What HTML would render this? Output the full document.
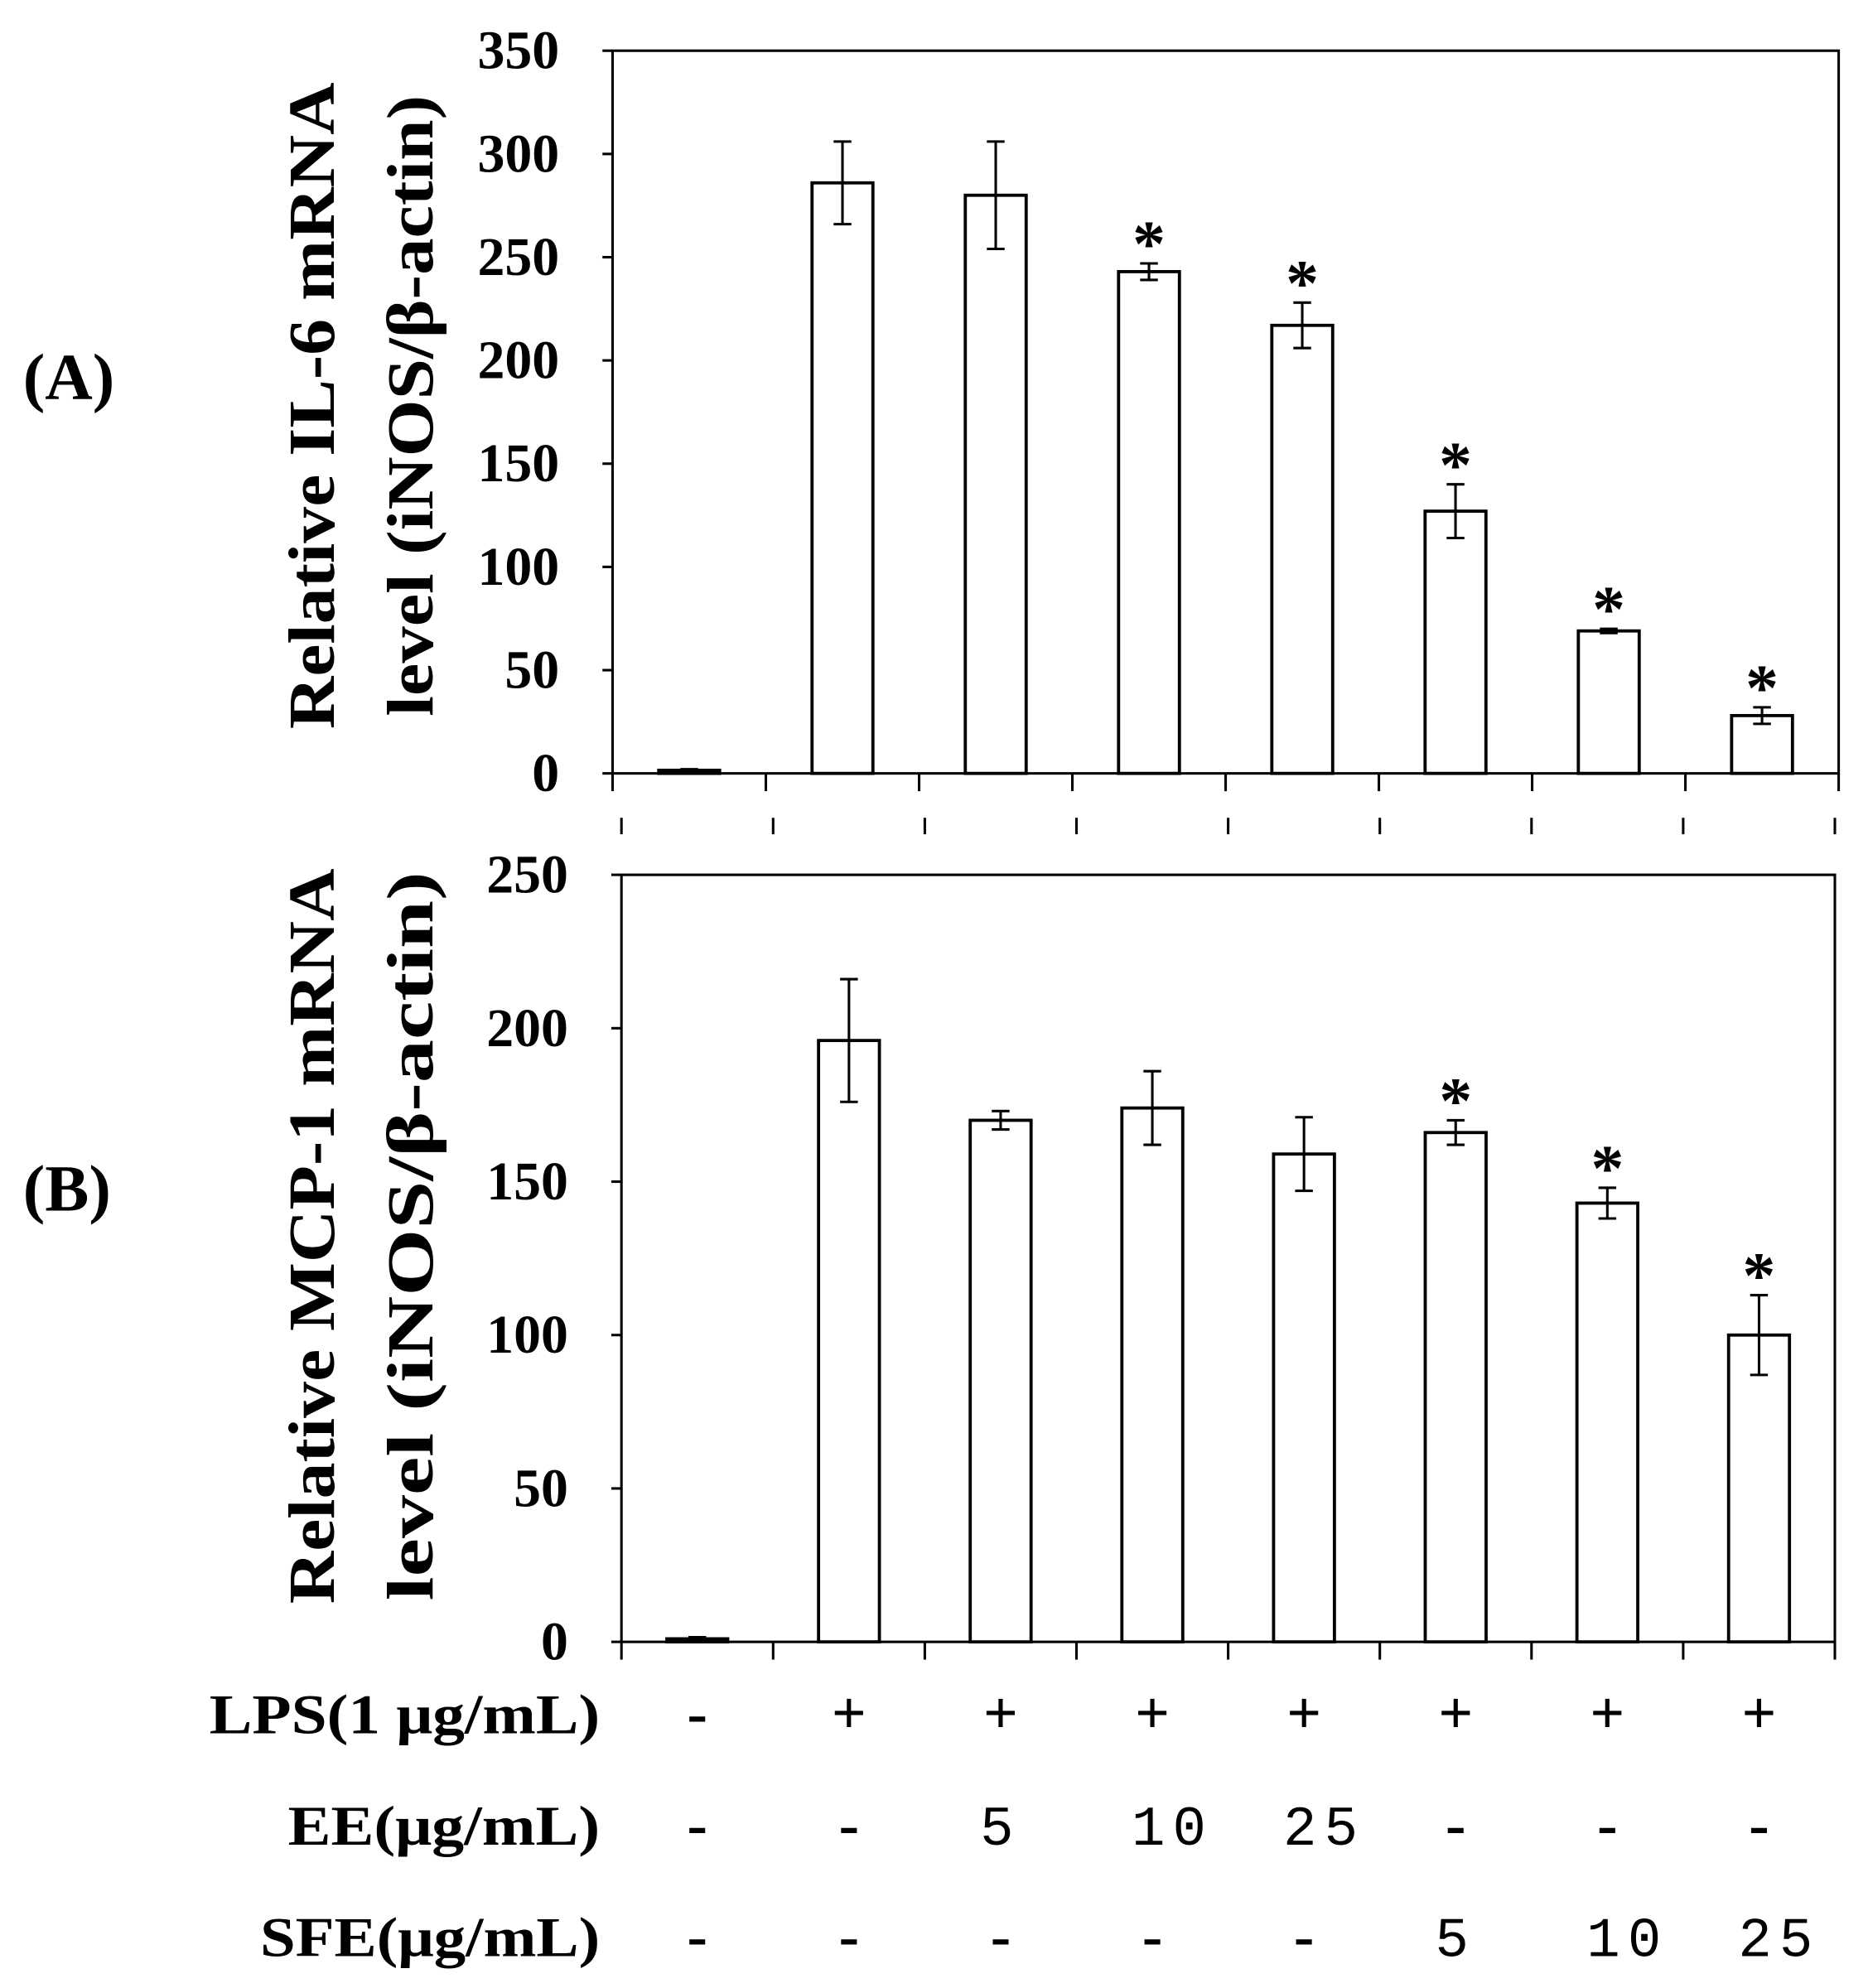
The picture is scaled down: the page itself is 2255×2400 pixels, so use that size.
<!DOCTYPE html>
<html><head><meta charset="utf-8"><style>
html,body{margin:0;padding:0;background:#fff}
svg{display:block}
text{font-family:"Liberation Serif",serif;font-weight:bold;fill:#000}
.mono{font-family:"Liberation Mono",monospace;font-weight:normal;letter-spacing:6px}
</style></head><body>
<svg id="chart" width="2255" height="2400" viewBox="0 0 1473 1568" xmlns="http://www.w3.org/2000/svg">
<g id="g"></g>
</svg>
<script>
const categories=["ctrl","LPS","EE5","EE10","EE25","SFE5","SFE10","SFE25"];
const valuesA=[1.5,286,280,243,217,127,69,28];
const errorsA=[0.5,20,26,4,11,13,1,4];
const starsA=[0,0,0,1,1,1,1,1];
const ticksA=[0,50,100,150,200,250,300,350];
const valuesB=[1,196,170,174,159,166,143,100];
const errorsB=[0.5,20,3,12,12,4,5,13];
const starsB=[0,0,0,0,0,1,1,1];
const ticksB=[0,50,100,150,200,250];
const lpsRow=["-","+","+","+","+","+","+","+"];
const eeRow=["-","-","5","10","25","-","-","-"];
const sfeRow=["-","-","-","-","-","5","10","25"];

const NS="http://www.w3.org/2000/svg";
const g=document.getElementById('g');
function el(t,a,txt){const e=document.createElementNS(NS,t);for(const k in a)e.setAttribute(k,a[k]);if(txt!==undefined)e.textContent=txt;g.appendChild(e);return e;}

function panel(p){
  const {x0,x1,y0,y1,max,vals,errs,stars,ticks,name}=p;
  const n=vals.length, cw=(x1-x0)/n, bw=48;
  const ys=v=>y1-(v/max)*(y1-y0);
  const xs=i=>x0+cw*(i+0.5);
  const box=el('rect',{x:x0,y:y0,width:x1-x0,height:y1-y0,fill:'none',stroke:'#000','stroke-width':2});
  
  
  ticks.forEach(t=>{
    const tx=el('text',{x:x0-42,y:ys(t)+14,'text-anchor':'end','font-size':43},String(t));
    
    
    el('line',{x1:x0-8,x2:x0,y1:ys(t),y2:ys(t),stroke:'#000','stroke-width':2});
  });
  for(let i=0;i<=n;i++){
    const x=x0+cw*i;
    el('line',{x1:x,x2:x,y1:y1,y2:y1+14,stroke:'#000','stroke-width':2});
  }
  vals.forEach((v,i)=>{
    const r=el('rect',{x:xs(i)-bw/2,y:ys(v),width:bw,height:y1-ys(v),fill:'#fff',stroke:'#000','stroke-width':2.5});
    
    
    const e=errs[i];
    const eb=el('path',{d:`M${xs(i)},${ys(v+e)}V${ys(v-e)}M${xs(i)-7},${ys(v+e)}H${xs(i)+7}M${xs(i)-7},${ys(v-e)}H${xs(i)+7}`,stroke:'#000','stroke-width':2,fill:'none'});
    
    
    if(stars[i]){
      const s=el('text',{x:xs(i),y:ys(v+e)+2,'text-anchor':'middle','font-size':52},'*');
      
      
    }
  });
}
panel({x0:483,x1:1450,y0:40,y1:610,max:350,vals:valuesA,errs:errorsA,stars:starsA,ticks:ticksA,name:'panel-a'});
panel({x0:490,x1:1447,y0:690,y1:1295,max:250,vals:valuesB,errs:errorsB,stars:starsB,ticks:ticksB,name:'panel-b'});
for(let i=0;i<=8;i++){const x=490+(1447-490)/8*i;el('line',{x1:x,x2:x,y1:645,y2:658,stroke:'#000','stroke-width':2});}

function ytitle(cx,cy,l1,l2,len1,len2,name){
  const t=el('text',{transform:`translate(${cx},${cy}) rotate(-90)`,'text-anchor':'middle','font-size':52});
  
  
  const a=document.createElementNS(NS,'tspan');a.setAttribute('x',0);a.setAttribute('y',0);a.setAttribute('textLength',len1);a.setAttribute('lengthAdjust','spacingAndGlyphs');a.textContent=l1;t.appendChild(a);
  const b=document.createElementNS(NS,'tspan');b.setAttribute('x',0);b.setAttribute('y',78);b.setAttribute('textLength',len2);b.setAttribute('lengthAdjust','spacingAndGlyphs');b.textContent=l2;t.appendChild(b);
}
ytitle(263,320,"Relative IL-6 mRNA","level (iNOS/β-actin)",510,490,'panel-a-y-axis-title');
ytitle(263,975,"Relative MCP-1 mRNA","level (iNOS/β-actin)",580,575,'panel-b-y-axis-title');
let t=el('text',{x:18,y:315,'font-size':52},'(A)');
t=el('text',{x:18,y:955,'font-size':52},'(B)');

const cx=i=>490+(1447-490)/8*(i+0.5);
function row(label,vals,y,len,name){
  const l=el('text',{x:473,y:y,'text-anchor':'end','font-size':44,textLength:len,lengthAdjust:'spacingAndGlyphs'},label);
  
  
  vals.forEach((v,i)=>{
    const isNum=/\d/.test(v);
    const off=isNum&&v.length>1?16:0;
    const e=el('text',{x:cx(i)+off,y:y,'text-anchor':'middle','font-size':isNum?44:48,class:isNum?'mono':''},v);
    
    
  });
}
row('LPS(1 μg/mL)',lpsRow,1367,308,'lps-row');
row('EE(μg/mL)',eeRow,1455,246,'ee-row');
row('SFE(μg/mL)',sfeRow,1543,268,'sfe-row');
</script>
</body></html>
